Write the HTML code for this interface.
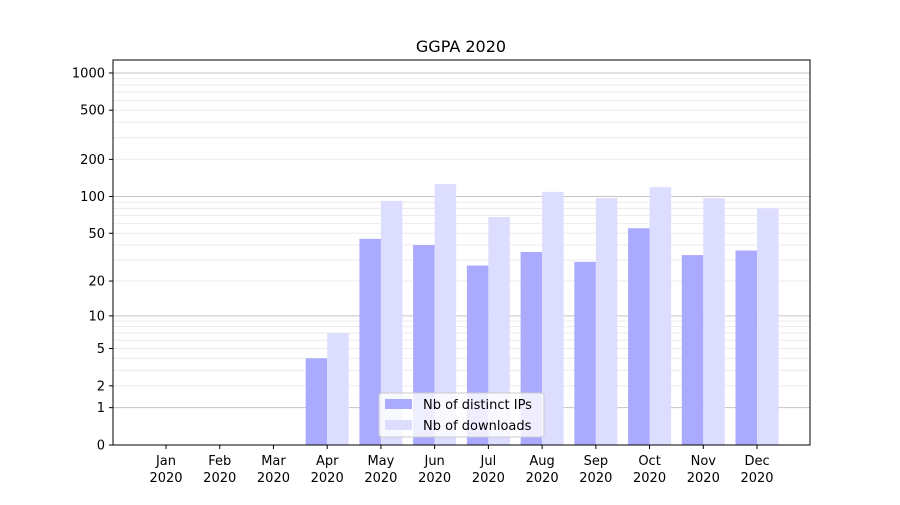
<!DOCTYPE html>
<html><head><meta charset="utf-8"><style>
body{margin:0;background:#fff;font-family:"Liberation Sans","DejaVu Sans",sans-serif;}
svg text{font-family:"DejaVu Sans","Liberation Sans",sans-serif;}
</style></head><body>
<svg id="chart" width="900" height="500" xmlns="http://www.w3.org/2000/svg">
<rect width="900" height="500" fill="#fff"/>
<text x="461" y="52" font-size="16" text-anchor="middle">GGPA 2020</text>
<g id="grid"></g><g id="bars"></g><g id="axes"></g>
</svg>
<script>
const months = ["Jan","Feb","Mar","Apr","May","Jun","Jul","Aug","Sep","Oct","Nov","Dec"];
const ipValues = [0,0,0,4,45,40,27,35,29,55,33,36];
const downloadValues = [0,0,0,7,92,126,68,109,97,119,97,80];
const yTicks = [0,1,2,5,10,20,50,100,200,500,1000];
const majorGrid = [1,10,100,1000];
const L=113,R=810,T=60,B=445;
const NS="http://www.w3.org/2000/svg";
function y(v){return B-124*Math.log10(v+1);}
function xc(i){return 166+i*53.73;}
const bw=21.5;
function mk(tag,attrs,parent){const e=document.createElementNS(NS,tag);for(const k in attrs)e.setAttribute(k,attrs[k]);parent.appendChild(e);return e;}
const grid=document.getElementById('grid'),bars=document.getElementById('bars'),axes=document.getElementById('axes');
for(let d=1;d<=1000;d*=10){for(let m=2;m<=9;m++){const v=d*m;if(y(v)<T)continue;
const g=mk('line',{x1:L,x2:R,y1:y(v),y2:y(v),stroke:'#ebebeb','stroke-width':1},grid);

}}
majorGrid.forEach(v=>{const g=mk('line',{x1:L,x2:R,y1:y(v),y2:y(v),stroke:'#c4c4c4','stroke-width':1},grid);

});
months.forEach((m,i)=>{
const a=mk('rect',{x:xc(i)-bw,y:y(ipValues[i]),width:bw,height:B-y(ipValues[i]),fill:'#aaaaff'},bars);


const b=mk('rect',{x:xc(i),y:y(downloadValues[i]),width:bw,height:B-y(downloadValues[i]),fill:'#ddddff'},bars);


mk('line',{x1:xc(i),x2:xc(i),y1:B,y2:B+4,stroke:'#000'},axes);
const t=mk('text',{x:xc(i),y:B+20,'font-size':13,'text-anchor':'middle'},axes);t.textContent=m;


const t2=mk('text',{x:xc(i),y:B+37,'font-size':13,'text-anchor':'middle'},axes);t2.textContent='2020';


});
yTicks.forEach(v=>{mk('line',{x1:L-4,x2:L,y1:y(v),y2:y(v),stroke:'#000'},axes);
const t=mk('text',{x:L-8,y:y(v)+4.5,'font-size':13,'text-anchor':'end'},axes);t.textContent=v;

});
const fr=mk('rect',{x:L,y:T,width:R-L,height:B-T,fill:'none',stroke:'#000','stroke-width':1},axes);


const lg=mk('g',{},axes);


mk('rect',{x:379,y:393,width:165,height:44,rx:3,fill:'#fff','fill-opacity':0.8,stroke:'#ccc'},lg);
mk('rect',{x:385,y:399,width:27,height:10,fill:'#aaaaff'},lg);
mk('rect',{x:385,y:420,width:27,height:10,fill:'#ddddff'},lg);
const l1=mk('text',{x:423,y:409,'font-size':13},lg);l1.textContent='Nb of distinct IPs';


const l2=mk('text',{x:423,y:430,'font-size':13},lg);l2.textContent='Nb of downloads';


</script>
</body></html>
